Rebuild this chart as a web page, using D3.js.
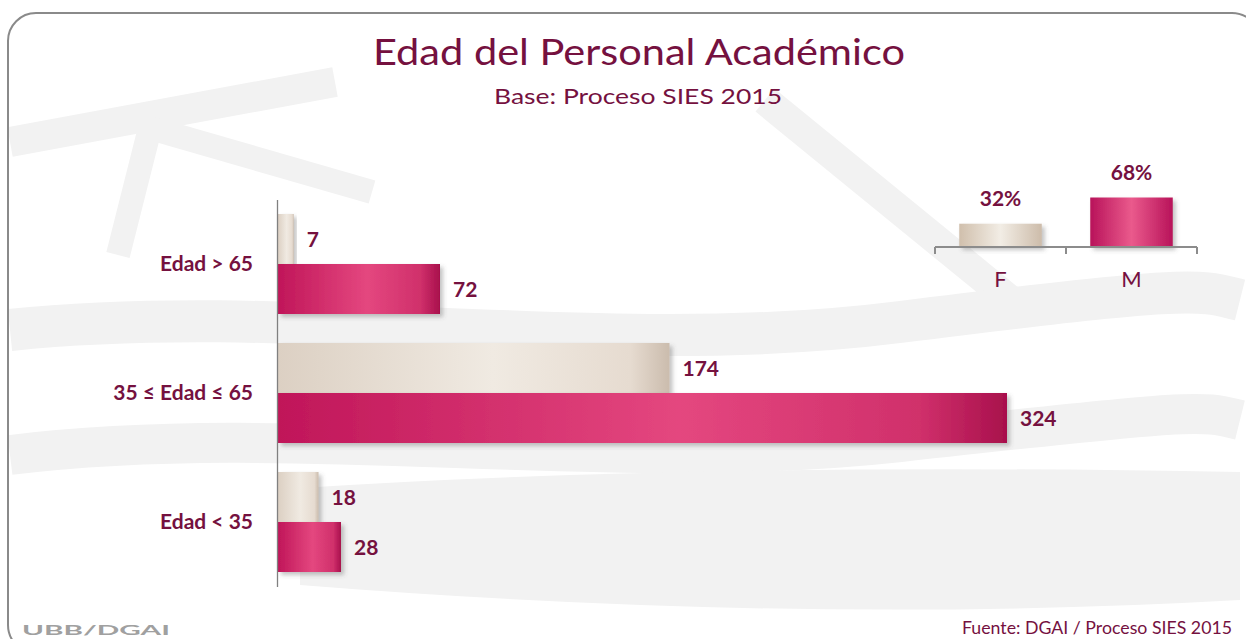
<!DOCTYPE html>
<html>
<head>
<meta charset="utf-8">
<script src="https://cdn.jsdelivr.net/npm/d3@7"></script>
<style>
  body { margin: 0; background: #fff; }
  svg { display: block; }
  text { font-family: Lato, "Open Sans", "DejaVu Sans", sans-serif; fill: #75113f; }
  .cat text { font-weight: 700; font-size: 21px; }
  .val { font-weight: 700; font-size: 21px; }
</style>
</head>
<body>
<svg id="chart" width="1246" height="639"></svg>
<script>
// data
const categories = ["Edad > 65", "35 ≤ Edad ≤ 65", "Edad < 35"];
const series = ["F", "M"];
const femaleValues = [7, 174, 18];
const maleValues = [72, 324, 28];
const genderLabels = ["F", "M"];
const genderShares = [32, 68];

const svg = d3.select("#chart");
const defs = svg.append("defs");

// gradients, roughly like the office 3d bars
function hGrad(id, stops) {
    const g = defs.append("linearGradient").attr("id", id)
        .attr("x1", "0%").attr("x2", "100%").attr("y1", "0%").attr("y2", "0%");
    stops.forEach(s => g.append("stop").attr("offset", s[0]).attr("stop-color", s[1]));
}
hGrad("gradM", [[0, "#c01659"], [0.55, "#e4477f"], [0.88, "#d0306b"], [1, "#a8104c"]]);
hGrad("gradF", [[0, "#dcd0c3"], [0.55, "#f0eae2"], [0.9, "#e6dbd0"], [1, "#cbbcad"]]);
hGrad("gradMs", [[0, "#b8135a"], [0.5, "#ea5a8c"], [1, "#b8135a"]]);
hGrad("gradFs", [[0, "#d0bfac"], [0.5, "#f2ede5"], [1, "#cdbcaa"]]);

const shadow = defs.append("filter").attr("id", "shadow")
    .attr("x", "-10%").attr("y", "-20%").attr("width", "130%").attr("height", "150%");
shadow.append("feDropShadow").attr("dx", 3).attr("dy", 3)
    .attr("stdDeviation", 2).attr("flood-color", "#555").attr("flood-opacity", 0.35);

// faint watermark behind everything
const wm = svg.append("g").attr("fill", "none").attr("stroke", "#f2f2f2");
wm.append("path").attr("d", "M10,142 L335,82").attr("stroke-width", 30);
wm.append("path").attr("d", "M118,255 L150,128 L372,192").attr("stroke-width", 24);
wm.append("path").attr("d", "M765,100 L1010,300").attr("stroke-width", 30);
wm.append("path").attr("d", "M10,330 C300,300 600,360 900,322 S1200,290 1240,300").attr("stroke-width", 42);
wm.append("path").attr("d", "M10,455 C300,420 600,475 900,442 S1200,410 1240,420").attr("stroke-width", 40);
wm.append("path").attr("d", "M300,488 Q700,462 1240,472 L1240,600 Q800,625 300,585 Z")
    .attr("fill", "#f2f2f2").attr("stroke", "none");

// frame
svg.append("rect")
    .attr("x", 8).attr("y", 13).attr("width", 1252).attr("height", 640).attr("rx", 28)
    .attr("fill", "none").attr("stroke", "#8a8a8a").attr("stroke-width", 2);

// titles
svg.append("text").attr("x", 639).attr("y", 65).attr("text-anchor", "middle")
    .attr("font-size", 37).attr("font-weight", 400)
    .attr("textLength", 532).attr("lengthAdjust", "spacingAndGlyphs")
    .text("Edad del Personal Académico");
svg.append("text").attr("x", 638).attr("y", 104).attr("text-anchor", "middle")
    .attr("font-size", 21).attr("font-weight", 400)
    .attr("textLength", 288).attr("lengthAdjust", "spacingAndGlyphs")
    .text("Base: Proceso SIES 2015");

// main horizontal bar chart
const x = d3.scaleLinear().domain([0, 324]).range([278, 1007]);
const y = d3.scaleBand().domain(categories).range([199.5, 586.5]);
const ySub = d3.scaleBand().domain(series).range([0, y.bandwidth()]).paddingOuter(0.29);

const rows = categories.map((c, i) => ({ cat: c, vals: [femaleValues[i], maleValues[i]] }));

const groups = svg.append("g").selectAll("g")
    .data(rows).join("g")
    .attr("transform", d => `translate(0,${y(d.cat)})`);

groups.selectAll("rect")
    .data(d => d.vals.map((v, j) => ({ s: series[j], v })))
    .join("rect")
    .attr("x", x(0))
    .attr("y", d => ySub(d.s))
    .attr("width", d => x(d.v) - x(0))
    .attr("height", ySub.bandwidth())
    .attr("fill", d => d.s === "F" ? "url(#gradF)" : "url(#gradM)")
    .attr("filter", "url(#shadow)");

groups.selectAll("text")
    .data(d => d.vals.map((v, j) => ({ s: series[j], v })))
    .join("text")
    .attr("class", "val")
    .attr("x", d => x(d.v) + 13)
    .attr("y", d => ySub(d.s) + ySub.bandwidth() / 2)
    .attr("dy", "0.36em")
    .text(d => d.v);

const yAxis = svg.append("g")
    .attr("class", "cat")
    .attr("transform", `translate(${x(0) - 1},0)`)
    .call(d3.axisLeft(y).tickSize(0).tickPadding(24));
yAxis.select(".domain").attr("stroke", "#808080").attr("stroke-width", 1.3);

// small gender chart
const xs = d3.scaleBand().domain(genderLabels).range([935, 1197]);
const ys = d3.scaleLinear().domain([0, 68]).range([247, 197.5]);
const barW = xs.bandwidth() * 0.63;

const small = svg.append("g");
small.selectAll("rect")
    .data(genderLabels.map((g, i) => ({ g, v: genderShares[i] })))
    .join("rect")
    .attr("x", d => xs(d.g) + (xs.bandwidth() - barW) / 2)
    .attr("y", d => ys(d.v))
    .attr("width", barW)
    .attr("height", d => ys(0) - ys(d.v))
    .attr("fill", d => d.g === "F" ? "url(#gradFs)" : "url(#gradMs)")
    .attr("filter", "url(#shadow)");

small.selectAll(".pct")
    .data(genderLabels.map((g, i) => ({ g, v: genderShares[i] })))
    .join("text")
    .attr("class", "pct")
    .attr("x", d => xs(d.g) + xs.bandwidth() / 2)
    .attr("y", d => ys(d.v) - 18)
    .attr("text-anchor", "middle")
    .attr("font-size", 21).attr("font-weight", 700)
    .text(d => d.v + "%");

const xsAxis = small.append("g")
    .attr("transform", `translate(0,${ys(0)})`)
    .call(d3.axisBottom(xs).tickSize(0).tickPadding(24));
xsAxis.select(".domain").remove();
xsAxis.selectAll("text").attr("font-size", 22).attr("font-family", "Lato, sans-serif");

// category boundary ticks like the office chart
const bounds = genderLabels.map(g => xs(g)).concat([xs.range()[1]]);
small.append("line")
    .attr("x1", xs.range()[0]).attr("x2", xs.range()[1])
    .attr("y1", ys(0)).attr("y2", ys(0))
    .attr("stroke", "#8c8c8c").attr("stroke-width", 2);
small.selectAll(".tk").data(bounds).join("line")
    .attr("class", "tk")
    .attr("x1", d => d).attr("x2", d => d)
    .attr("y1", ys(0)).attr("y2", ys(0) + 7)
    .attr("stroke", "#8c8c8c").attr("stroke-width", 2);

// footer
svg.append("text").attr("x", 22).attr("y", 635)
    .attr("font-size", 13).attr("font-weight", 700)
    .attr("textLength", 148).attr("lengthAdjust", "spacingAndGlyphs")
    .style("fill", "#a0a0a0")
    .text("UBB/DGAI");
svg.append("text").attr("x", 1232).attr("y", 634).attr("text-anchor", "end")
    .attr("font-size", 17)
    .attr("textLength", 270).attr("lengthAdjust", "spacingAndGlyphs")
    .text("Fuente: DGAI / Proceso SIES 2015");
</script>
</body>
</html>
